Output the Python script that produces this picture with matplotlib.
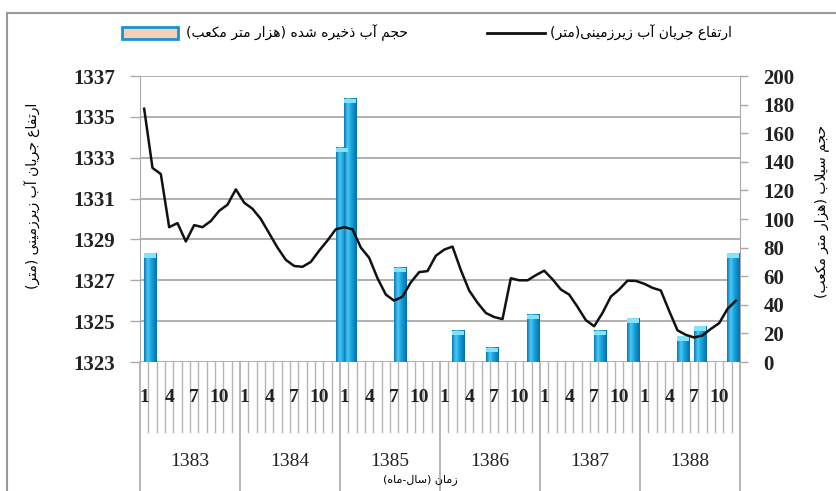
import numpy as np
import matplotlib
matplotlib.use("Agg")
import matplotlib.pyplot as plt
import matplotlib.transforms as mtransforms
from matplotlib import font_manager, ft2font
from matplotlib.patches import Rectangle
from matplotlib.lines import Line2D

# ---- data ----
years = ["1383", "1384", "1385", "1386", "1387", "1388"]
month_labels = ["1", "4", "7", "10"]

# groundwater level (m), one value per month, 1383/1 .. 1388/12
levels = [1335.4, 1332.5, 1332.2, 1329.6, 1329.8, 1328.9, 1329.7, 1329.6, 1329.9, 1330.4, 1330.7, 1331.45,
          1330.8, 1330.5, 1330.0, 1329.3, 1328.6, 1328.0, 1327.7, 1327.66, 1327.9, 1328.45, 1328.95, 1329.5,
          1329.6, 1329.5, 1328.6, 1328.1, 1327.1, 1326.3, 1326.0, 1326.2, 1326.9, 1327.4, 1327.45, 1328.2,
          1328.5, 1328.65, 1327.5, 1326.5, 1325.9, 1325.4, 1325.2, 1325.1, 1327.1, 1327.0, 1327.0, 1327.25,
          1327.47, 1327.05, 1326.55, 1326.3, 1325.7, 1325.05, 1324.75, 1325.4, 1326.2, 1326.55, 1326.98, 1326.97,
          1326.83, 1326.63, 1326.5, 1325.5, 1324.55, 1324.33, 1324.2, 1324.3, 1324.62, 1324.9, 1325.6, 1326.0]

# stored water volume (thousand m3)
bar_year = [1383, 1385, 1385, 1385, 1386, 1386, 1386, 1387, 1387, 1388, 1388, 1388]
bar_month = [2, 1, 2, 8, 3, 7, 12, 8, 12, 6, 8, 12]
bar_volume = [76, 150, 184, 66, 22, 10, 33, 22, 30.5, 18, 25, 76]

legend_line = "ارتفاع جریان آب زیرزمینی(متر)"
legend_bar = "حجم آب ذخیره شده (هزار متر مکعب)"
left_title = "ارتفاع جریان آب زیرزمینی (متر)"
right_title = "حجم سیلاب (هزار متر مکعب)"
x_title = "زمان (سال-ماه)"

# ---- minimal Persian shaping (presentation forms + visual order) ----
FORMS = {
    "ا": (0xFE8D, 0xFE8E, None, None), "آ": (0xFE81, 0xFE82, None, None),
    "ب": (0xFE8F, 0xFE90, 0xFE91, 0xFE92), "پ": (0xFB56, 0xFB57, 0xFB58, 0xFB59),
    "ت": (0xFE95, 0xFE96, 0xFE97, 0xFE98), "ج": (0xFE9D, 0xFE9E, 0xFE9F, 0xFEA0),
    "ح": (0xFEA1, 0xFEA2, 0xFEA3, 0xFEA4), "خ": (0xFEA5, 0xFEA6, 0xFEA7, 0xFEA8),
    "د": (0xFEA9, 0xFEAA, None, None), "ذ": (0xFEAB, 0xFEAC, None, None),
    "ر": (0xFEAD, 0xFEAE, None, None), "ز": (0xFEAF, 0xFEB0, None, None),
    "س": (0xFEB1, 0xFEB2, 0xFEB3, 0xFEB4), "ش": (0xFEB5, 0xFEB6, 0xFEB7, 0xFEB8),
    "ع": (0xFEC9, 0xFECA, 0xFECB, 0xFECC), "ف": (0xFED1, 0xFED2, 0xFED3, 0xFED4),
    "ک": (0xFB8E, 0xFB8F, 0xFB90, 0xFB91), "ل": (0xFEDD, 0xFEDE, 0xFEDF, 0xFEE0),
    "م": (0xFEE1, 0xFEE2, 0xFEE3, 0xFEE4), "ن": (0xFEE5, 0xFEE6, 0xFEE7, 0xFEE8),
    "ه": (0xFEE9, 0xFEEA, 0xFEEB, 0xFEEC), "و": (0xFEED, 0xFEEE, None, None),
    "ی": (0xFBFC, 0xFBFD, 0xFBFE, 0xFBFF),
}
LAM_ALEF = {"ا": (0xFEFB, 0xFEFC), "آ": (0xFEF5, 0xFEF6)}
_cmap = ft2font.FT2Font(font_manager.findfont("DejaVu Sans")).get_charmap()


def _glyph(code, fallback):
    return chr(code) if code in _cmap else fallback


def shape(text):
    def dual(c):
        return c in FORMS and FORMS[c][2] is not None

    out = []
    i = 0
    while i < len(text):
        c = text[i]
        if c not in FORMS:
            out.append(c)
            i += 1
            continue
        prev_join = i > 0 and dual(text[i - 1])
        if c == "ل" and i + 1 < len(text) and text[i + 1] in LAM_ALEF:
            iso, fin = LAM_ALEF[text[i + 1]]
            out.append(_glyph(fin if prev_join else iso, c + text[i + 1]))
            i += 2
            continue
        next_join = dual(c) and i + 1 < len(text) and text[i + 1] in FORMS
        iso, fin, ini, med = FORMS[c]
        if prev_join and next_join:
            code = med
        elif prev_join:
            code = fin
        elif next_join:
            code = ini
        else:
            code = iso
        out.append(_glyph(code, c))
        i += 1
    return "".join(reversed(out)).translate(str.maketrans("()", ")("))


# ---- figure layout (pixel based) ----
W, H = 837, 491
L, R, T, B = 140, 740, 76, 362
GRID = "#a9a9a9"
FA = "DejaVu Sans"
NUM = dict(family="Liberation Serif", fontweight="bold", color="#222222")

fig = plt.figure(figsize=(W / 100, H / 100), dpi=100)


def fx(px):
    return px / W


def fy(py):
    return 1 - py / H


ax = fig.add_axes([fx(L), fy(B), (R - L) / W, (B - T) / H])
ax2 = ax.twinx()
ax3 = ax.twinx()

# outer chart frame (top and left edges visible)
fig.add_artist(Line2D([fx(7), 1], [fy(13), fy(13)], color="#9a9a9a", lw=1.5))
fig.add_artist(Line2D([fx(7), fx(7)], [fy(13), 0], color="#9a9a9a", lw=1.5))

# left axis: level, gridlines
ax.set_xlim(0, 72)
ax.set_ylim(1323, 1337)
ax.set_yticks(np.arange(1323, 1338, 2))
ax.set_xticks([])
ax.grid(axis="y", color=GRID, lw=1.3)
ax.tick_params(axis="y", length=7, width=1, color=GRID, pad=11, labelsize=15)
for lab in ax.get_yticklabels():
    lab.set(**NUM)
for s in ["top", "bottom", "right"]:
    ax.spines[s].set_visible(False)
ax.spines["left"].set_color(GRID)

# multi-level category axis below the plot
trans = mtransforms.blended_transform_factory(ax.transData, ax.transAxes)
month_bottom = -(432 - B) / (B - T)
year_bottom = -(H - B) / (B - T)
for m in range(1, 72):
    if m % 12:
        ax.plot([m, m], [0, month_bottom], transform=trans, color="#b5b5b5", lw=1, clip_on=False)
for k in range(0, 73, 12):
    ax.plot([k, k], [0, year_bottom], transform=trans, color=GRID, lw=1.2, clip_on=False)
for yi, yr in enumerate(years):
    for ml in month_labels:
        ax.text(yi * 12 + int(ml) - 0.5, -(398 - B) / (B - T), ml, transform=trans,
                ha="center", va="center", fontsize=14, **NUM)
    ax.text(yi * 12 + 6, -(462 - B) / (B - T), yr, transform=trans, ha="center", va="center",
            fontsize=14, family="Liberation Serif", color="#222222")
fig.text(fx(420), fy(480), shape(x_title), family=FA, fontsize=8, ha="center", va="center")

# right axis: stored volume bars
ax2.set_ylim(0, 200)
ax2.set_yticks(np.arange(0, 201, 20))
ax2.tick_params(axis="y", length=6, width=1, color=GRID, pad=11, labelsize=15)
for lab in ax2.get_yticklabels():
    lab.set(**NUM)
for s in ["top", "bottom", "left"]:
    ax2.spines[s].set_visible(False)
ax2.spines["right"].set_color(GRID)

stops = [0.0, 0.3, 0.55, 1.0]
cols = np.array([[8, 125, 185], [80, 200, 242], [22, 165, 224], [6, 112, 170]]) / 255
grad_x = np.linspace(0, 1, 32)
grad = np.stack([np.interp(grad_x, stops, cols[:, c]) for c in range(3)], axis=-1)[None, :, :]
bar_w = 1.45
for yr, mo, vol in zip(bar_year, bar_month, bar_volume):
    xc = (yr - 1383) * 12 + mo - 0.5 - 0.3
    ax2.imshow(grad, extent=(xc - bar_w / 2, xc + bar_w / 2, 0, vol), aspect="auto",
               interpolation="bilinear", zorder=2)
    ax2.add_patch(Rectangle((xc - bar_w / 2, vol - 3), bar_w, 3, color="#86e2f8", lw=0, zorder=3))
ax2.set_xlim(0, 72)
ax2.set_ylim(0, 200)

# groundwater level line on top
ax3.set_ylim(1323, 1337)
ax3.set_xlim(0, 72)
ax3.set_yticks([])
for s in ax3.spines.values():
    s.set_visible(False)
ax3.plot(np.arange(len(levels)) + 0.5, levels, color="#111111", lw=1.8, solid_joinstyle="round")

# axis titles
fig.text(fx(33), fy(196), shape(left_title), family=FA, fontsize=10, rotation=90,
         ha="center", va="center")
fig.text(fx(822), fy(211), shape(right_title), family=FA, fontsize=10, rotation=90,
         ha="center", va="center")

# legend
fig.add_artist(Rectangle((fx(122), fy(39)), fx(56), 12 / H, facecolor="#f5d0b8",
                         edgecolor="#1a93d4", lw=2))
fig.text(fx(186), fy(33), shape(legend_bar), family=FA, fontsize=10, ha="left", va="center")
fig.add_artist(Line2D([fx(487), fx(545)], [fy(33), fy(33)], color="#111111", lw=2))
fig.text(fx(550), fy(33), shape(legend_line), family=FA, fontsize=10, ha="left", va="center")

fig.savefig("out.png", dpi=100)
